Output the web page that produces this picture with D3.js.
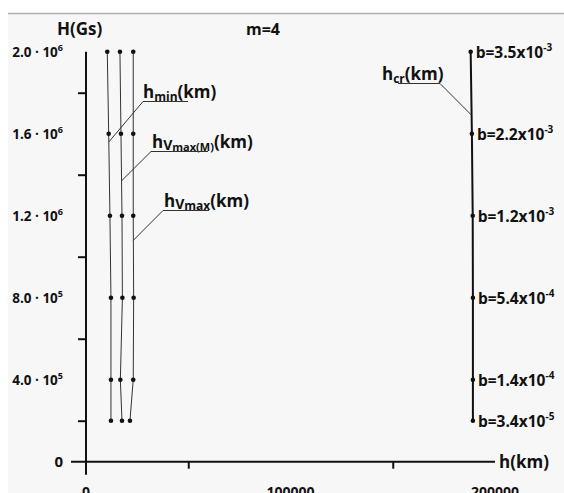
<!DOCTYPE html>
<html>
<head>
<meta charset="utf-8">
<script src="https://cdn.jsdelivr.net/npm/d3@7"></script>
<style>
  body { margin: 0; background: #fff; }
  text { font-family: "Open Sans", "DejaVu Sans", sans-serif; font-weight: 700; fill: #111; }
</style>
</head>
<body>
<svg id="chart" width="564" height="493"></svg>
<script>
// field values, Gs
const fieldH = [2.0e6, 1.6e6, 1.2e6, 8.0e5, 4.0e5, 2.0e5];
// heights, km
const hMin = [10400, 11100, 11700, 12200, 12200, 12200];
const hVmaxM = [16600, 17100, 17600, 17800, 16800, 17600];
const hVmax = [23100, 23100, 23100, 23300, 23100, 21500];
const hCr = [188100, 188700, 189100, 189200, 189200, 189200];
const bLabels = [['3.5', '-3'], ['2.2', '-3'], ['1.2', '-3'], ['5.4', '-4'], ['1.4', '-4'], ['3.4', '-5']];

const yMajor = [0, 4e5, 8e5, 1.2e6, 1.6e6, 2.0e6];
const yMinor = [2e5, 6e5, 1.0e6, 1.4e6, 1.8e6];
const yTickText = [null, ['4.0', '5'], ['8.0', '5'], ['1.2', '6'], ['1.6', '6'], ['2.0', '6']];
const xMajor = [0, 100000, 200000];
const xMinor = [50000, 150000];

const svg = d3.select('#chart');
svg.append('rect').attr('x', 8).attr('y', 13).attr('width', 556).attr('height', 480).attr('fill', '#f7f7f7');
svg.append('line').attr('x1', 8).attr('x2', 564).attr('y1', 13.5).attr('y2', 13.5).attr('stroke', '#b0b0b0').attr('stroke-width', 1.5);

const x = d3.scaleLinear().domain([0, 200000]).range([86, 495]);
const y = d3.scaleLinear().domain([0, 2e6]).range([461.7, 51.7]);

// axes
const g = svg.append('g');
const yAx = g.append('g').attr('transform', `translate(${x(0)},0)`);
yAx.call(d3.axisLeft(y).tickValues(yMajor).tickSize(15).tickFormat(''));
yAx.call(d3.axisLeft(y).tickValues(yMinor).tickSize(8).tickFormat(''));
const xAx = g.append('g').attr('transform', `translate(0,${y(0)})`);
xAx.call(d3.axisBottom(x).tickValues(xMajor).tickSize(13).tickFormat(''));
xAx.call(d3.axisBottom(x).tickValues(xMinor).tickSize(7).tickFormat(''));
g.selectAll('.domain').remove();
g.selectAll('.tick line').attr('stroke', '#111').attr('stroke-width', 2);
g.append('line').attr('x1', x(0)).attr('x2', x(0)).attr('y1', y(2e6)).attr('y2', y(0) + 13)
  .attr('stroke', '#111').attr('stroke-width', 2);
g.append('line').attr('x1', x(0) - 15).attr('x2', x(200000)).attr('y1', y(0)).attr('y2', y(0))
  .attr('stroke', '#111').attr('stroke-width', 2);

// y tick labels
yMajor.forEach((v, i) => {
  const t = svg.append('text').attr('x', 63).attr('y', y(v) + 5).attr('text-anchor', 'end').style('font-size', '13.5px');
  if (!yTickText[i]) { t.text('0').style('font-size', '15px'); return; }
  t.append('tspan').text(`${yTickText[i][0]} \u00b7 10`);
  t.append('tspan').attr('dy', -6).style('font-size', '9px').text(yTickText[i][1]);
});
// x tick labels
xMajor.forEach(v => {
  svg.append('text').attr('x', x(v)).attr('y', 497).attr('text-anchor', 'middle').style('font-size', '14px').text(v);
});

svg.append('text').attr('x', 57).attr('y', 35).style('font-size', '17px').text('H(Gs)');
svg.append('text').attr('x', 246).attr('y', 35).style('font-size', '16px').text('m=4');
svg.append('text').attr('x', 499).attr('y', 468).style('font-size', '17px').text('h(km)');

// series
const series = [
  { vals: hMin, w: 1, c: '#333' },
  { vals: hVmaxM, w: 1, c: '#333' },
  { vals: hVmax, w: 1, c: '#333' },
  { vals: hCr, w: 2, c: '#111' }
];
const line = d3.line().x(d => x(d[0])).y(d => y(d[1]));
series.forEach(s => {
  const pts = s.vals.map((v, i) => [v, fieldH[i]]);
  svg.append('path').attr('d', line(pts)).attr('fill', 'none').attr('stroke', s.c).attr('stroke-width', s.w);
  svg.selectAll(null).data(pts).enter().append('circle')
    .attr('cx', d => x(d[0])).attr('cy', d => y(d[1])).attr('r', 2.3).attr('fill', '#111');
});

// b labels
hCr.forEach((v, i) => {
  const t = svg.append('text').attr('x', x(v) + 5).attr('y', y(fieldH[i]) + 6).style('font-size', '15.5px');
  t.append('tspan').text(`b=${bLabels[i][0]}x10`);
  t.append('tspan').attr('dy', -7).style('font-size', '10px').text(bLabels[i][1]);
});

// annotations: anchor on curve at H, label position
function along(vals, H) {
  const k = d3.scaleLinear().domain(fieldH).range(vals);
  return [x(k(H)), y(H)];
}
const notes = [
  { vals: hMin, H: 1.56e6, lx: 143, ly: 98, ux: [143, 188], parts: [['h', 17, 0], ['min', 12, 3], ['(km)', 17, -3]] },
  { vals: hVmaxM, H: 1.37e6, lx: 152, ly: 148, ux: [151, 208], parts: [['h', 17, 0], ['V', 14, 2], ['max(M)', 11, 1], ['(km)', 17, -3]] },
  { vals: hVmax, H: 1.08e6, lx: 164, ly: 207, ux: [163, 209], parts: [['h', 17, 0], ['V', 14, 2], ['max', 12, 1], ['(km)', 17, -3]] },
  { vals: hCr, H: 1.69e6, lx: 382, ly: 80, ux: [398, 440], ux0: 440, parts: [['h', 17, 0], ['cr', 12, 3], ['(km)', 17, -3]] }
];
notes.forEach(n => {
  const t = svg.append('text').attr('x', n.lx).attr('y', n.ly);
  n.parts.forEach(p => t.append('tspan').attr('dy', p[2]).style('font-size', `${p[1]}px`).text(p[0]));
  const uy = n.ly + 3.5;
  svg.append('line').attr('x1', n.ux[0]).attr('x2', n.ux[1]).attr('y1', uy).attr('y2', uy).attr('stroke', '#333').attr('stroke-width', 1);
  const a = along(n.vals, n.H);
  const sx = n.ux0 !== undefined ? n.ux0 : n.ux[0];
  svg.append('line').attr('x1', sx).attr('y1', uy).attr('x2', a[0]).attr('y2', a[1]).attr('stroke', '#333').attr('stroke-width', 1);
});
</script>
</body>
</html>
